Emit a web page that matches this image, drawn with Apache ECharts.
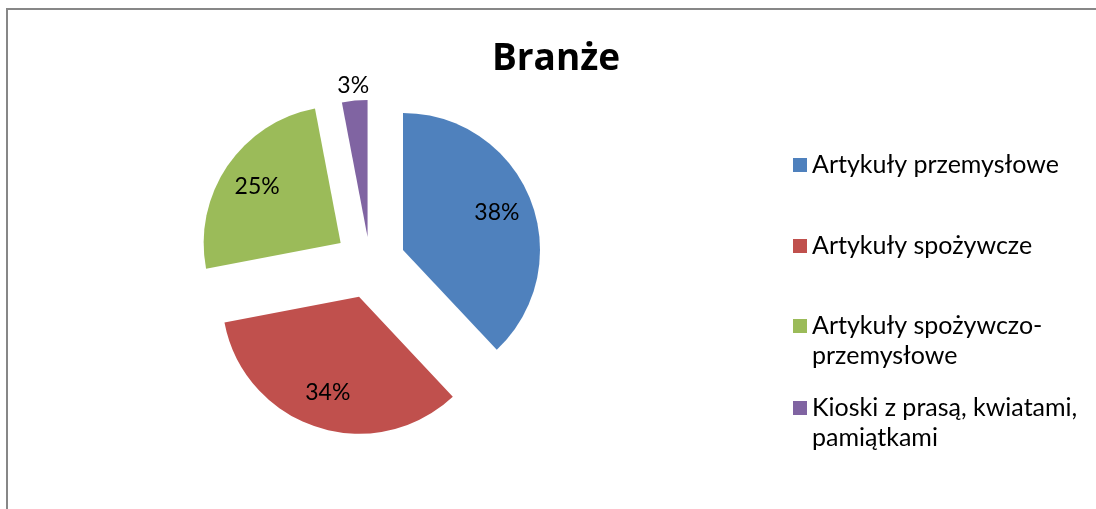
<!DOCTYPE html>
<html>
<head>
<meta charset="utf-8">
<script src="https://cdn.jsdelivr.net/npm/echarts@6/dist/echarts.min.js"></script>
<style>
  html, body { margin: 0; padding: 0; background: #fff; }
  #chart { width: 1096px; height: 509px; }
</style>
</head>
<body>
<div id="chart"></div>
<script>
// dane wykresu
const categories = [
    'Artykuły przemysłowe',
    'Artykuły spożywcze',
    'Artykuły spożywczo-przemysłowe',
    'Kioski z prasą, kwiatami, pamiątkami'
]
const values = [38, 34, 25, 3]
const legendLabels = [
    'Artykuły przemysłowe',
    'Artykuły spożywcze',
    'Artykuły spożywczo-\nprzemysłowe',
    'Kioski z prasą, kwiatami,\npamiątkami'
]
const colors = ['#4f81bd', '#c0504d', '#9bbb59', '#8064a2']

const font = 'Lato'
const center = [370, 263]

// dane jednej warstwy: widoczne wycinki i wycinki z etykietą
function layer(visible, labelled) {
    return categories.map((name, i) => ({
        name: name,
        value: values[i],
        selected: true,
        itemStyle: { color: visible.indexOf(i) >= 0 ? colors[i] : 'transparent' },
        label: { show: labelled.indexOf(i) >= 0 }
    }))
}

function pie(radius, offset, data) {
    return {
        type: 'pie',
        center: center,
        radius: radius,
        startAngle: 90,
        clockwise: true,
        selectedMode: 'multiple',
        selectedOffset: offset,
        silent: true,
        animation: false,
        emphasis: { disabled: true },
        itemStyle: { borderWidth: 0 },
        label: {
            position: 'inside',
            formatter: p => Math.round(p.percent) + '%',
            fontFamily: font,
            fontSize: 23,
            color: '#000'
        },
        labelLine: { show: false },
        data: data
    }
}

const legendTops = [150, 231, 281, 363]

const option = {
    backgroundColor: '#fff',
    title: {
        text: 'Branże',
        left: 551,
        top: 36,
        textAlign: 'center',
        textStyle: { fontFamily: 'Open Sans', fontSize: 37, fontWeight: 'bold', color: '#000' }
    },
    graphic: [{
        type: 'polyline',
        silent: true,
        shape: { points: [[7, 509], [7, 9], [1096, 9]] },
        style: { stroke: '#878787', lineWidth: 2, fill: null }
    }],
    legend: legendLabels.map((text, i) => ({
        left: 793,
        top: legendTops[i],
        orient: 'vertical',
        padding: 0,
        itemWidth: 14,
        itemHeight: 14,
        selectedMode: false,
        data: [{ name: categories[i], icon: 'rect', itemStyle: { color: colors[i] } }],
        // pusta linia na górze, żeby znacznik stał przy pierwszym wierszu
        formatter: () => text.indexOf('\n') >= 0 ? ' \n' + text : text,
        textStyle: {
            fontFamily: font,
            fontSize: 25,
            color: '#000',
            lineHeight: 30
        }
    })),
    series: [
        pie([0, 137], 35.5, layer([0, 1, 2], [])),
        pie([0, 137], 26, layer([3], [])),
        pie([59, 137], 35.5, layer([], [0, 1, 2])),
        pie([139, 159], 26, layer([], [3]))
    ]
}

const chart = echarts.init(document.getElementById('chart'))
chart.setOption(option)
</script>
</body>
</html>
